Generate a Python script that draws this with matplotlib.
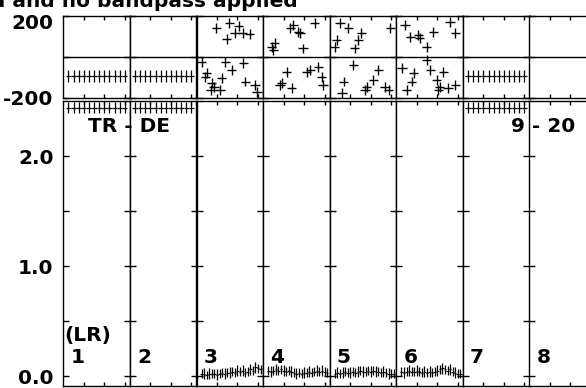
"""
AIPS POSSM style spectra: phase (top) and amplitude (bottom) per IF, baseline TR - DE
"""

import matplotlib

matplotlib.use("Agg")
import matplotlib.pyplot as plt
import matplotlib.transforms as mtransforms

plt.rcParams["font.family"] = ["DejaVu Sans"]
plt.rcParams["font.weight"] = "bold"

## figure size in pixels
W, H = 586, 388

## IF panels and channels 9 - 20
panels = [1, 2, 3, 4, 5, 6, 7, 8]
chan = [9, 10, 11, 12, 13, 14, 15, 16, 17, 18, 19, 20]

## IFs with a flat spectrum
flat_panels = [1, 2, 7]
flat_phase = [-94, -94, -94, -94, -94, -94, -94, -94, -94, -94, -94, -94]
flat_phase_err = [29, 29, 29, 29, 29, 29, 29, 29, 29, 29, 29, 29]
flat_amp = [2.44, 2.44, 2.44, 2.44, 2.44, 2.44, 2.44, 2.44, 2.44, 2.44, 2.44, 2.44]
flat_amp_err = [0.05, 0.05, 0.05, 0.05, 0.05, 0.05, 0.05, 0.05, 0.05, 0.05, 0.05, 0.05]

## phases (deg) of IFs 3 - 6
ph3_chan = [11.9, 14.4, 16.2, 15.5, 17.0, 18.4, 13.9, 9.0, 10.0, 9.7, 11.0, 11.4,
            10.8, 12.9, 13.6, 14.9, 17.1, 17.5, 19.4, 19.8, 12.6]
ph3_val = [140, 167, 151, 118, 118, 112, 89, -24, -81, -98, -130, -147,
           -163, -106, -24, -65, -32, -122, -139, -172, -163]
ph4_chan = [10.3, 9.7, 10.0, 13.9, 14.9, 18.1, 15.8, 13.3, 15.2, 12.6, 11.6, 11.3,
            13.6, 16.5, 17.2, 18.8, 19.4, 19.7]
ph4_val = [66, 49, 33, 156, 123, 164, 41, 140, 118, -73, -130, -139,
           -155, -73, -65, -49, -98, -139]
ph5_chan = [10.0, 11.6, 9.4, 9.0, 14.2, 13.6, 12.9, 19.8, 12.6, 10.7, 10.4, 17.5,
            16.5, 15.2, 18.8, 19.5, 14.9]
ph5_val = [164, 140, 82, 49, 115, 82, 41, 140, -40, -122, -179, -65,
           -114, -147, -147, -163, -163]
ph6_chan = [9.7, 12.3, 12.6, 10.7, 15.2, 13.9, 18.5, 19.5, 13.9, 9.1, 11.4, 11.0,
            10.0, 14.6, 17.2, 15.9, 16.5, 18.1, 16.2, 19.5]
ph6_val = [156, 107, 91, 98, 123, 49, 172, 115, -16, -57, -81, -122,
           -163, -65, -73, -114, -147, -155, -163, -139]

## amplitudes of IFs 3 - 6 (two samples per channel)
amp_chan = [9.0, 9.5, 10.0, 10.5, 11.0, 11.5, 12.0, 12.5, 13.0, 13.5, 14.0, 14.5,
            15.0, 15.5, 16.0, 16.5, 17.0, 17.5, 18.0, 18.5, 19.0, 19.5, 20.0, 20.5]
amp3 = [0.02, 0.02, 0.01, 0.02, 0.02, 0.02, 0.01, 0.02, 0.03, 0.02, 0.03, 0.03,
        0.04, 0.03, 0.05, 0.04, 0.05, 0.03, 0.04, 0.06, 0.05, 0.08, 0.07, 0.06]
amp4 = [0.05, 0.04, 0.05, 0.06, 0.05, 0.06, 0.05, 0.04, 0.05, 0.04, 0.03, 0.02,
        0.03, 0.02, 0.03, 0.03, 0.04, 0.03, 0.04, 0.05, 0.04, 0.05, 0.04, 0.03]
amp5 = [0.02, 0.03, 0.02, 0.03, 0.04, 0.03, 0.03, 0.04, 0.03, 0.04, 0.05, 0.04,
        0.04, 0.05, 0.04, 0.05, 0.04, 0.04, 0.03, 0.04, 0.03, 0.02, 0.02, 0.02]
amp6 = [0.04, 0.03, 0.04, 0.05, 0.04, 0.04, 0.05, 0.04, 0.03, 0.04, 0.03, 0.04,
        0.03, 0.04, 0.05, 0.06, 0.07, 0.06, 0.05, 0.06, 0.04, 0.03, 0.02, 0.02]
amp_err = [0.04, 0.05, 0.04, 0.05, 0.04, 0.04, 0.05, 0.04, 0.04, 0.05, 0.04, 0.05,
           0.04, 0.04, 0.05, 0.04, 0.05, 0.04, 0.04, 0.05, 0.04, 0.05, 0.04, 0.04]

phase_data = {3: (ph3_chan, ph3_val), 4: (ph4_chan, ph4_val),
              5: (ph5_chan, ph5_val), 6: (ph6_chan, ph6_val)}
amp_data = {3: amp3, 4: amp4, 5: amp5, 6: amp6}

FS = 14.5
X0, PW = 63.3, 66.6  # left edge and width of a panel (px)


def fx(px):
    return px / W


def fy(py):
    return 1.0 - py / H


def style(ax, first, yticks):
    ax.set_xlim(8, 21)
    ax.set_xticks([12, 16, 20])
    ax.tick_params(axis="x", direction="in", top=True, bottom=True,
                   length=3, width=1, labelbottom=False)
    ax.set_yticks(yticks)
    if first:
        ax.tick_params(axis="y", direction="in", length=4.5, width=1,
                       labelsize=FS, pad=7)
    else:
        ax.tick_params(axis="y", direction="inout", length=9, width=1,
                       labelleft=False)
    for sp in ax.spines.values():
        sp.set_linewidth(1.0)


def plot_data():
    fig = plt.figure(figsize=(W / 100, H / 100), dpi=100)

    for i, p in enumerate(panels):
        left = X0 + i * PW
        # phase panel
        axp = fig.add_axes([fx(left), fy(97.5), PW / W, 81.5 / H])
        axp.set_ylim(-200, 200)
        style(axp, i == 0, [-200, 0, 200])
        axp.axhline(0, color="black", lw=1.0)
        if i == 0:
            axp.set_yticklabels(["-200", "", "200"])
            lab = axp.get_yticklabels()[2]
            lab.set_transform(lab.get_transform() + mtransforms.ScaledTranslation(
                0, -4 / 72, fig.dpi_scale_trans))
        # amplitude panel
        axa = fig.add_axes([fx(left), fy(386), PW / W, 285 / H])
        axa.set_ylim(-0.09, 2.5)
        style(axa, i == 0, [0.0, 0.5, 1.0, 1.5, 2.0])
        if i == 0:
            axa.set_yticklabels(["0.0", "", "1.0", "", "2.0"])

        if p in flat_panels:
            axp.errorbar(chan, flat_phase, yerr=flat_phase_err, xerr=0.5,
                         fmt="none", ecolor="black", elinewidth=0.9)
            axa.errorbar(chan, flat_amp, yerr=flat_amp_err, xerr=0.5,
                         fmt="none", ecolor="black", elinewidth=0.9)
        if p in phase_data:
            c, v = phase_data[p]
            axp.errorbar(c, v, yerr=24, xerr=0.9, fmt="none",
                         ecolor="black", elinewidth=1.0)
            axa.errorbar(amp_chan, amp_data[p], yerr=amp_err, xerr=0.25,
                         fmt="none", ecolor="black", elinewidth=0.9)

        fig.text(fx(left + 7), fy(363), str(p), fontsize=FS,
                 ha="left", va="baseline")

    fig.text(fx(64), fy(341), "(LR)", fontsize=FS, ha="left", va="baseline")
    fig.text(fx(129), fy(132), "TR - DE", fontsize=FS, ha="center", va="baseline")
    fig.text(fx(575), fy(132), "9 - 20", fontsize=FS, ha="right", va="baseline")
    fig.text(fx(298), fy(7), "d and no bandpass applied", fontsize=FS,
             ha="right", va="baseline")

    fig.savefig("out.png", dpi=100)


if __name__ == "__main__":
    plot_data()
